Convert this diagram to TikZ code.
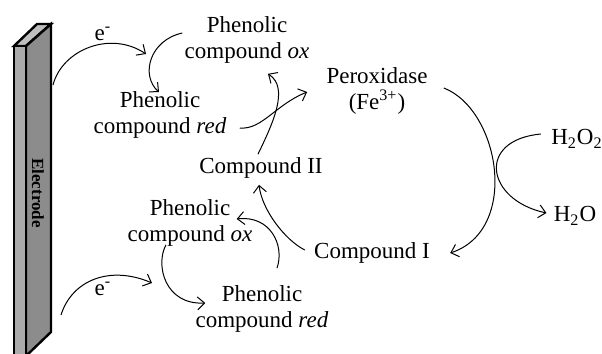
\documentclass[tikz,border=0pt]{standalone}
\usepackage{fontspec}
\setmainfont{Liberation Serif}
\usetikzlibrary{arrows.meta}
\begin{document}
\begin{tikzpicture}[x=0.5pt,y=-0.5pt,
  every node/.style={inner sep=0pt,align=center,font=\fontsize{11.5}{13}\selectfont},
  react/.style={->,line width=0.5pt},
  >={Straight Barb[length=3.5pt,width=6.5pt]}]
\useasboundingbox (0,0) rectangle (602,354);
% electrode
\filldraw[fill=black!25,line width=1.2pt] (14,46) -- (26,46) -- (51,24) -- (37,24) -- cycle;
\filldraw[fill=black!45,line width=1.2pt] (26,46) -- (51,24) -- (51,332) -- (26,356) -- cycle;
\filldraw[fill=black!33,line width=1.2pt] (14,46) -- (26,46) -- (26,358) -- (14,358) -- cycle;
\node[rotate=-90,font=\fontsize{8.5}{10}\selectfont\bfseries] (electrode) at (38,193) {Electrode};
\coordinate (elecTop) at (53,85);
\coordinate (elecBot) at (61,315);
% species
\node (eTop) at (103,34) {e\textsuperscript{-}};
\node (oxTop) at (247,40) {Phenolic\\compound \textit{ox}};
\node (redTop) at (160,115) {Phenolic\\compound \textit{red}};
\node (perox) at (377,91) {Peroxidase\\(Fe\textsuperscript{3+})};
\node (cpdII) at (261,168) {Compound II};
\node (oxBot) at (190,223) {Phenolic\\compound \textit{ox}};
\node (cpdI) at (372,253) {Compound I};
\node (redBot) at (262,309) {Phenolic\\compound \textit{red}};
\node (eBot) at (103,289) {e\textsuperscript{-}};
\node (hoo) at (577,139) {H\textsubscript{2}O\textsubscript{2}};
\node (water) at (575,216) {H\textsubscript{2}O};
% arrows
\draw[react] (elecTop) .. controls (62,50) and (110,30) .. (146,54);
\draw[react] ([shift={(-2,-7)}]oxTop.west) .. controls (150,40) and (140,75) .. ([shift={(-1,1)}]redTop.north);
\draw[react] ([shift={(13,13)}]redTop.east) .. controls (262,130) and (275,105) .. ([shift={(-19,1)}]perox.west);
\draw[react] ([shift={(-3,-3)}]cpdII.north) .. controls (272,125) and (290,88) .. ([shift={(21,10)}]oxTop.south);
\draw[react] ([shift={(16,-3)}]perox.east) .. controls (500,110) and (520,230) .. ([shift={(20,0)}]cpdI.east);
\draw[react] ([shift={(-10,-5)}]hoo.west) .. controls (476,140) and (486,200) .. ([shift={(-7,-3)}]water.west);
\draw[react] ([shift={(-9,-3)}]cpdI.west) .. controls (285,240) and (262,210) .. ([shift={(-2,6)}]cpdII.south);
\draw[react] ([shift={(15,-17)}]redBot.north) .. controls (285,245) and (270,215) .. ([shift={(-16,-4)}]oxBot.east);
\draw[react] (elecBot) .. controls (72,280) and (110,265) .. (152,283);
\draw[react] ([shift={(-24,-2)}]oxBot.south) .. controls (155,265) and (165,305) .. ([shift={(10,-6)}]redBot.west);
\end{tikzpicture}
\end{document}
